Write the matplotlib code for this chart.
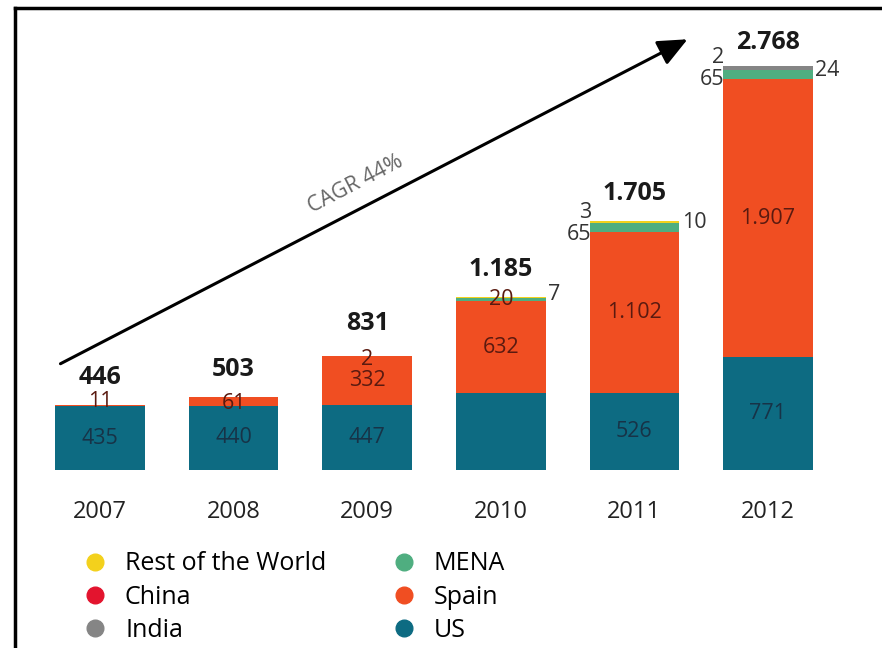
import matplotlib
matplotlib.use("Agg")
import matplotlib.pyplot as plt
from matplotlib.lines import Line2D
from matplotlib.patches import FancyArrowPatch
import numpy as np

plt.rcParams['font.family'] = ['Open Sans', 'DejaVu Sans']

years = ["2007", "2008", "2009", "2010", "2011", "2012"]
us = [435, 440, 447, 526, 526, 771]
spain = [11, 61, 332, 632, 1102, 1907]
mena = [0, 0, 0, 20, 65, 65]
rest_world = [0, 0, 2, 7, 10, 0]
india = [0, 0, 0, 0, 3, 24]
china = [0, 0, 0, 0, 0, 2]
totals = ["446", "503", "831", "1.185", "1.705", "2.768"]
us_labels = ["435", "440", "447", "", "526", "771"]
spain_labels = ["11", "61", "332", "632", "1.102", "1.907"]
cagr_text = "CAGR 44%"

series = [
    ("US", us, "#0d6b82"),
    ("Spain", spain, "#f04e22"),
    ("MENA", mena, "#4fae80"),
    ("Rest of the World", rest_world, "#f3d11c"),
    ("India", india, "#858585"),
    ("China", china, "#e3142e"),
]

W, H = 882, 648
fig = plt.figure(figsize=(W / 100, H / 100), dpi=100)
ax = fig.add_axes([20 / W, (H - 470) / H, 828 / W, 438 / H])
ax.set_xlim(-0.6, 5.6)
ax.set_ylim(0, 3000)
ax.axis("off")
U = 3000 / 438.0  # data units per pixel

x = np.arange(len(years))
bw = 0.67
bottom = np.zeros(len(years))
bottoms = {}
for name, vals, col in series:
    v = np.array(vals, dtype=float)
    ax.bar(x, v, bw, bottom=bottom, color=col, linewidth=0)
    bottoms[name] = bottom.copy()
    bottom = bottom + v
tops = bottom

lab_dark = "#173347"
lab_red = "#5a1a10"
lab_gray = "#333333"
fs_in = 15.5
fs_side = 15.5

# US labels
for i, t in enumerate(us_labels):
    if t:
        ax.text(x[i], us[i] / 2, t, ha="center", va="center",
                fontsize=fs_in, color=lab_dark)
# Spain labels
for i, t in enumerate(spain_labels):
    yc = bottoms["Spain"][i] + spain[i] / 2
    if i == 0:
        yc = tops[i] + 3 * U
    if i == 1:
        yc = yc - 2 * U
    ax.text(x[i], yc, t, ha="center", va="center", fontsize=fs_in, color=lab_red)

# small labels
left = lambda i: x[i] - bw / 2 + 0.01
right = lambda i: x[i] + bw / 2 + 0.02
ax.text(x[2], tops[2] - 4 * U, "2", ha="center", va="center", fontsize=fs_in, color=lab_red)
ax.text(x[3], bottoms["MENA"][3] + 1 * U, "20", ha="center", va="center", fontsize=fs_in, color=lab_red)
ax.text(right(3), tops[3] + 2 * U, "7", ha="left", va="center", fontsize=fs_side, color=lab_gray)
ax.text(left(4), tops[4] + 8 * U, "3", ha="right", va="center", fontsize=fs_side, color=lab_gray)
ax.text(left(4), tops[4] - 14 * U, "65", ha="right", va="center", fontsize=fs_side, color=lab_gray)
ax.text(right(4), tops[4] - 2 * U, "10", ha="left", va="center", fontsize=fs_side, color=lab_gray)
ax.text(left(5), tops[5] + 8 * U, "2", ha="right", va="center", fontsize=fs_side, color=lab_gray)
ax.text(left(5), tops[5] - 14 * U, "65", ha="right", va="center", fontsize=fs_side, color=lab_gray)
ax.text(right(5), tops[5] - 5 * U, "24", ha="left", va="center", fontsize=fs_side, color=lab_gray)

# totals
for i, t in enumerate(totals):
    off = 27 if i < 5 else 23
    if i == 2:
        off = 32
    ax.text(x[i], tops[i] + off * U, t, ha="center", va="center",
            fontsize=18, fontweight="bold", color="#1a1a1a")

# year labels
for i, yv in enumerate(years):
    ax.text(x[i], -42 * U, yv, ha="center", va="center", fontsize=17, color="#222222",
            clip_on=False)

# CAGR arrow (figure pixel coords)
def fpx(px, py):
    return (px / W, 1 - py / H)

fig.add_artist(FancyArrowPatch(
    fpx(58, 365), fpx(690, 38), transform=fig.transFigure,
    arrowstyle="-|>,head_length=18,head_width=8", mutation_scale=1,
    color="black", linewidth=2.2))
ang = np.degrees(np.arctan2(365 - 38, 690 - 58))
fig.text(*fpx(356, 184), cagr_text, rotation=ang, rotation_mode="anchor",
         ha="center", va="center", fontsize=15.5, color="#666666")

# legend
leg_order = ["Rest of the World", "China", "India", "MENA", "Spain", "US"]
colmap = {n: c for n, _, c in series}
handles = [Line2D([], [], marker="o", linestyle="none", markersize=12,
                  markerfacecolor=colmap[n], markeredgecolor=colmap[n]) for n in leg_order]
fig.legend(handles, leg_order, loc="upper left", bbox_to_anchor=fpx(70, 539),
           ncol=2, frameon=False, fontsize=18, handletextpad=0.7,
           columnspacing=2.6, labelspacing=0.33, borderpad=0, handlelength=1.0)

# frame
fig.add_artist(Line2D([15 / W, 1.0], [1 - 8 / H, 1 - 8 / H], transform=fig.transFigure,
                      color="black", linewidth=2.5))
fig.add_artist(Line2D([15 / W, 15 / W], [0, 1 - 8 / H], transform=fig.transFigure,
                      color="black", linewidth=2.5))

fig.savefig("out.png", dpi=100)
